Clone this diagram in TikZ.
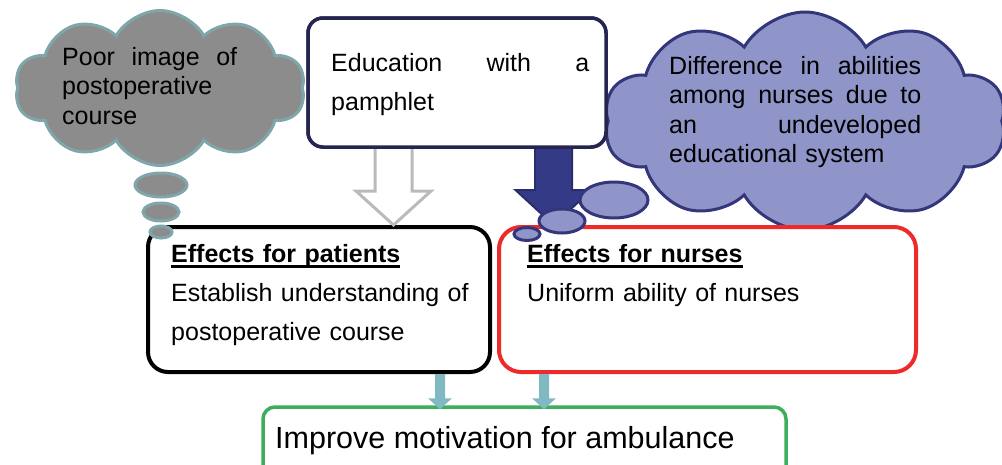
\documentclass[tikz,border=0pt]{standalone}
\usepackage{fontspec}
\setmainfont{Liberation Sans}
\usetikzlibrary{shapes.symbols,shapes.geometric,calc}
\definecolor{navy}{HTML}{262450}
\definecolor{gcfill}{HTML}{8C8C8C}
\definecolor{gcdraw}{HTML}{7FA6AA}
\definecolor{pcfill}{HTML}{8F95C8}
\definecolor{pcdraw}{HTML}{33367A}
\definecolor{barrow}{HTML}{353A87}
\definecolor{barrowd}{HTML}{2A2D6B}
\definecolor{redb}{HTML}{EE2B2B}
\definecolor{greenb}{HTML}{3CAE5C}
\definecolor{tealar}{HTML}{80B9C2}
\definecolor{grayar}{HTML}{BABABA}
\newcommand{\myul}[1]{\setbox0\hbox{#1}\rlap{\rule[-5.6pt]{\wd0}{2.6pt}}\box0}
\newcommand{\blockarrow}[6]{\draw[#1] let \p1=#2, \p2=#3 in
  (\x1-#4pt,\y1) -- (\x1-#4pt,\y2+#6pt) -- (\x1-#5pt,\y2+#6pt) -- (\x1,\y2)
  -- (\x1+#5pt,\y2+#6pt) -- (\x1+#4pt,\y2+#6pt) -- (\x1+#4pt,\y1);}
\tikzset{
  box/.style={draw, fill=white, inner sep=0pt},
  gcloud/.style={cloud, cloud puffs=10, cloud puff arc=120, cloud ignores aspect, draw=gcdraw, fill=gcfill, line width=3pt, inner sep=0pt},
  pcloud/.style={cloud, cloud puffs=10, cloud puff arc=120, cloud ignores aspect, draw=pcdraw, fill=pcfill, line width=3pt, inner sep=0pt},
  gbub/.style={ellipse, draw=gcdraw, fill=gcfill, line width=3pt, inner sep=0pt},
  pbub/.style={ellipse, draw=pcdraw, fill=pcfill, line width=3pt, inner sep=0pt},
  txt/.style={inner sep=0pt, anchor=base west, align=left, font=\fontsize{25}{39}\selectfont},
  ctxt/.style={inner sep=0pt, anchor=base west, align=left, font=\fontsize{25}{29.5}\selectfont},
}
\begin{document}
\begin{tikzpicture}[x=1pt,y=-1pt]
\useasboundingbox (0,0) rectangle (1002,464);
\clip (0,0) rectangle (1002,464);
% clouds
\node[gcloud, minimum width=290, minimum height=155] (gc) at (160,88) {};
\node[pcloud, minimum width=402, minimum height=218] (pc) at (805,121) {};
% boxes
\node[box, draw=navy, line width=3.5pt, rounded corners=15pt, minimum width=298, minimum height=129] (edu) at (457,82.5) {};
\node[box, draw=black, line width=4pt, rounded corners=20pt, minimum width=342, minimum height=145] (pat) at (319,299.5) {};
\node[box, draw=redb, line width=4pt, rounded corners=22pt, minimum width=417, minimum height=145] (nur) at (707.5,299.5) {};
% block arrows
\blockarrow{draw=grayar, fill=white, line width=3pt, line join=miter}{([xshift=-63.5pt]edu.south)}{(pat.north)}{18.5}{37.5}{34}
\blockarrow{draw=barrowd, fill=barrow, line width=2pt, line join=miter}{([xshift=96.5pt]edu.south)}{(nur.north)}{18.5}{38}{35}
\node[box, draw=navy, line width=3.5pt, rounded corners=15pt, minimum width=298, minimum height=129] (edu2) at (edu) {};
% green box and teal arrows
\node[box, draw=greenb, line width=3.5pt, rounded corners=12pt, minimum width=523, minimum height=83] (grn) at (524.5,448.5) {};
\blockarrow{draw=none, fill=tealar}{([xshift=121pt]pat.south)}{([yshift=-4pt]grn.north)}{5}{12}{11}
\blockarrow{draw=none, fill=tealar}{([xshift=-163.5pt]nur.south)}{([yshift=-4pt]grn.north)}{5}{12}{11}
% thought bubbles
\node[gbub, minimum width=52, minimum height=24] (gb1) at (161,185) {};
\node[gbub, minimum width=36, minimum height=18] (gb2) at (161,212) {};
\node[gbub, minimum width=22, minimum height=12] (gb3) at (161,232) {};
\node[pbub, minimum width=68, minimum height=36] (pb1) at (614,200) {};
\node[pbub, minimum width=46, minimum height=24] (pb2) at (562,221) {};
\node[pbub, minimum width=26, minimum height=13] (pb3) at (527,234) {};
% texts
\node[ctxt, text width=175pt] (gct) at (62,65) {Poor\hfill image\hfill of\\postoperative\\course};
\node[ctxt, text width=252pt] (pct) at (669,74) {Difference\hfill in\hfill abilities\\among\hfill nurses\hfill due\hfill to\\an\hfill undeveloped\\educational system};
\node[txt, text width=258pt] (edut) at (331,71) {Education\hfill with\hfill a\\pamphlet};
\node[txt, text width=310pt] (patt) at (171,262) {\myul{\bfseries Effects for patients}\\Establish understanding of\\postoperative course};
\node[txt, text width=380pt] (nurt) at (527,262) {\myul{\bfseries Effects for nurses}\\Uniform ability of nurses};
\node[inner sep=0pt, anchor=base west, font=\fontsize{30.5}{36}\selectfont] (grnt) at (275,448) {Improve motivation for ambulance};
\end{tikzpicture}
\end{document}
